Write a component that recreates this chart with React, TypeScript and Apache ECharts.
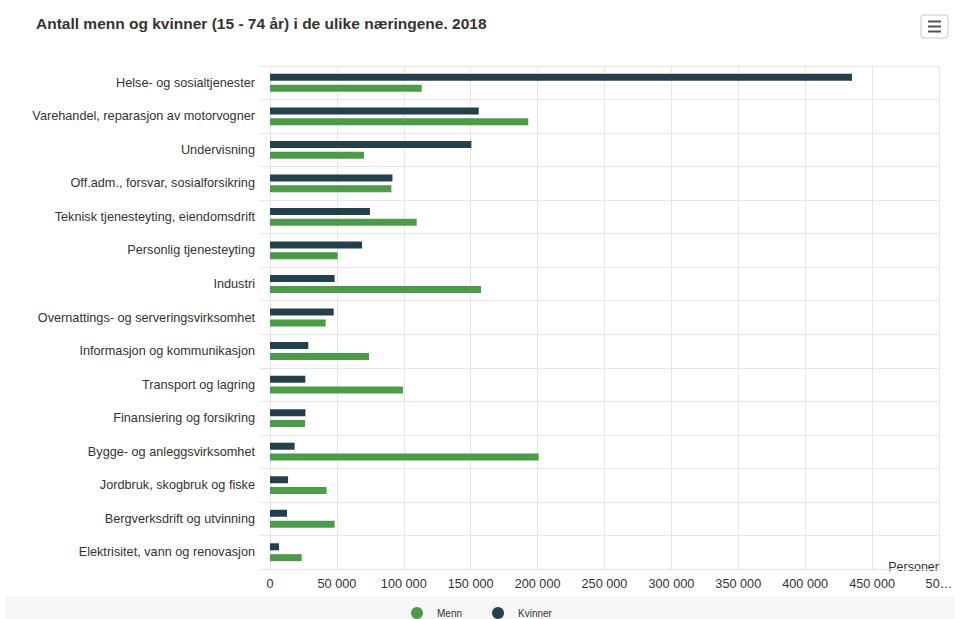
import React, { useEffect, useRef } from "react";
import * as echarts from "echarts";

const categories = [
  "Helse- og sosialtjenester",
  "Varehandel, reparasjon av motorvogner",
  "Undervisning",
  "Off.adm., forsvar, sosialforsikring",
  "Teknisk tjenesteyting, eiendomsdrift",
  "Personlig tjenesteyting",
  "Industri",
  "Overnattings- og serveringsvirksomhet",
  "Informasjon og kommunikasjon",
  "Transport og lagring",
  "Finansiering og forsikring",
  "Bygge- og anleggsvirksomhet",
  "Jordbruk, skogbruk og fiske",
  "Bergverksdrift og utvinning",
  "Elektrisitet, vann og renovasjon",
];

const kvinner = [435000, 156000, 150500, 91500, 74700, 68800, 48300, 47600, 28600, 26400, 26500, 18400, 13500, 12700, 6700];
const menn = [113400, 193000, 70300, 90700, 109600, 50600, 157700, 41600, 74000, 99400, 26200, 200800, 42300, 48300, 23700];

const title = "Antall menn og kvinner (15 - 74 år) i de ulike næringene. 2018";
const xName = "Personer";

const fmt = (v: number) => {
  if (v === 500000) return "50…";
  return String(v).replace(/\B(?=(\d{3})+(?!\d))/g, " ");
};

export default function App() {
  const ref = useRef<HTMLDivElement>(null);
  useEffect(() => {
    if (!ref.current) return;
    const chart = echarts.init(ref.current, undefined, { renderer: "svg" });
    const font = "'Liberation Sans', Arial, Helvetica, sans-serif";
    chart.setOption({
      animation: false,
      textStyle: { fontFamily: font },
      title: {
        text: title,
        left: 31,
        top: 10,
        textStyle: { fontSize: 15.5, fontWeight: "bold", color: "#333", fontFamily: font },
      },
      legend: {
        data: ["Menn", "Kvinner"],
        top: 602,
        left: 406,
        icon: "circle",
        itemWidth: 30,
        itemHeight: 12,
        itemGap: 30,
        textStyle: { fontSize: 10, color: "#333", fontFamily: font },
      },
      grid: { left: 270, right: 22, top: 66, bottom: 50, containLabel: false },
      xAxis: {
        type: "value",
        min: 0,
        max: 500000,
        interval: 50000,
        name: xName,
        nameLocation: "end",
        nameGap: 0,
        nameTextStyle: { align: "right", verticalAlign: "bottom", color: "#333", fontSize: 12.5, padding: [0, 0, -4, 0] },
        axisLine: { show: true, lineStyle: { color: "#e6e6e6" } },
        axisTick: { show: false },
        axisLabel: { color: "#333", fontSize: 12.7, margin: 8, formatter: fmt, showMaxLabel: true },
        splitLine: { show: true, lineStyle: { color: "#e6e6e6" } },
      },
      yAxis: {
        type: "category",
        data: categories,
        inverse: true,
        axisLine: { show: true, lineStyle: { color: "#e6e6e6" } },
        axisTick: { show: true, length: 10, lineStyle: { color: "#e6e6e6" } },
        axisLabel: { color: "#333", fontSize: 12.7, margin: 15 },
        splitLine: { show: true, lineStyle: { color: "#e6e6e6" } },
      },
      series: [
        {
          name: "Kvinner",
          type: "bar",
          data: kvinner,
          barWidth: 7,
          barGap: "55%",
          itemStyle: { color: "#24404a" },
        },
        {
          name: "Menn",
          type: "bar",
          data: menn,
          barWidth: 7,
          barGap: "55%",
          itemStyle: { color: "#4c9b48" },
        },
      ],
      graphic: [
        {
          type: "rect",
          z: -10,
          shape: { x: 5, y: 596, width: 950, height: 23 },
          style: { fill: "#f6f6f6" },
          silent: true,
        },
        {
          type: "group",
          children: [
            { type: "rect", shape: { x: 921, y: 15, width: 27, height: 23, r: 3 }, style: { fill: "#fff", stroke: "#c8c8c8", lineWidth: 1 } },
            { type: "line", shape: { x1: 928, y1: 21.5, x2: 941, y2: 21.5 }, style: { stroke: "#555", lineWidth: 2 } },
            { type: "line", shape: { x1: 928, y1: 26.5, x2: 941, y2: 26.5 }, style: { stroke: "#555", lineWidth: 2 } },
            { type: "line", shape: { x1: 928, y1: 31.5, x2: 941, y2: 31.5 }, style: { stroke: "#555", lineWidth: 2 } },
          ],
        },
      ],
    });
    return () => chart.dispose();
  }, []);
  return <div ref={ref} style={{ width: 961, height: 619, position: "absolute", left: 0, top: 0 }} />;
}
